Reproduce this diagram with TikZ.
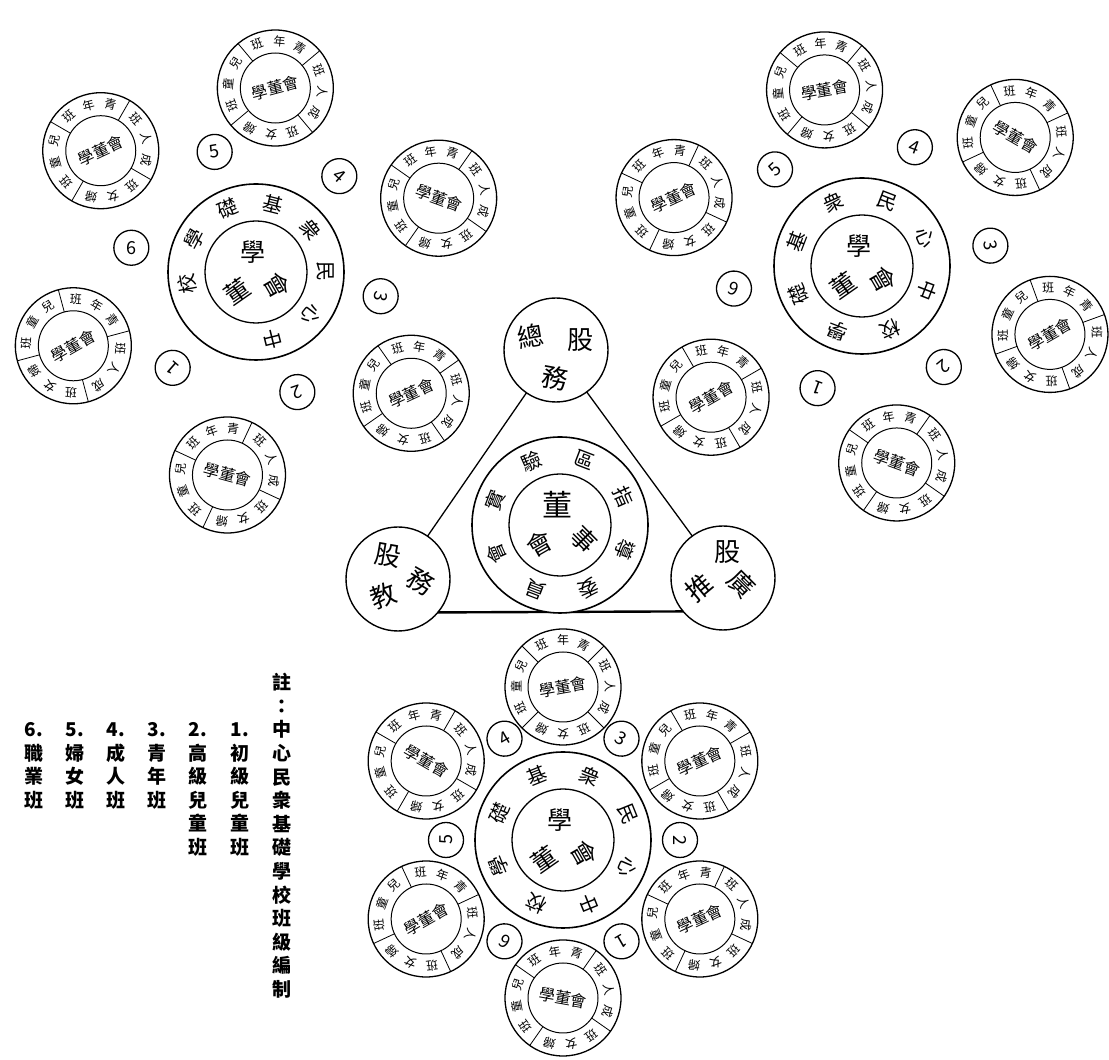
\documentclass[tikz,border=0pt]{standalone}
\usepackage{fontspec}
\setmainfont{Noto Sans CJK TC}
\usetikzlibrary{positioning}

% branch school: board in the middle, four classes round it
\newcommand{\ringschool}[4]{%
  \node[schoolout] (#1) at (#2) {};
  \node[schoolin] (#1i) at (#2) {};
  \foreach \s/\ca/\cb/\cc in {0/青/年/班, 90/兒/童/班, 180/婦/女/班, 270/成/人/班}{
    \draw[divline] ([shift={({#3+\s+45}:35)}]#1.center) -- ([shift={({#3+\s+45}:58)}]#1.center);
    \node[ringtxt, rotate=#3+\s-27] (#1-\s-a) at ([shift={({#3+\s+63}:47)}]#1.center) {\ca};
    \node[ringtxt, rotate=#3+\s] (#1-\s-b) at ([shift={({#3+\s+90}:47)}]#1.center) {\cb};
    \node[ringtxt, rotate=#3+\s+27] (#1-\s-c) at ([shift={({#3+\s+117}:47)}]#1.center) {\cc};
  }
  \node[schooltxt, rotate=#4] (#1-board) at (#1.center) {學董會};
}

% central school: name round the ring, board inside
\newcommand{\bigschool}[4]{%
  \node[bigout] (#1) at (#2) {};
  \node[bigin] (#1i) at (#2) {};
  \foreach \ch [count=\k] in {中,心,民,衆,基,礎,學,校}{
    \pgfmathsetmacro\ang{#3+(\k-1)*(#4)}
    \node[bigtxt, rotate=\ang-90] (#1-\k) at ([shift={(\ang:69.5)}]#1.center) {\ch};
  }
  \node[boardtxt] (#1-xue) at ([shift={(-3,20)}]#1.center) {學};
  \node[boardtxt, rotate=35] (#1-dong) at ([shift={(-19,-19)}]#1.center) {董};
  \node[boardtxt, rotate=-60] (#1-hui) at ([shift={(21,-14)}]#1.center) {會};
}

\begin{document}
\begin{tikzpicture}[
    x=1pt, y=1pt,
    schoolout/.style={circle, draw, line width=1.3pt, minimum size=116, inner sep=0, outer sep=0, fill=white},
    schoolin/.style={circle, draw, line width=1pt, minimum size=70, inner sep=0, outer sep=0},
    divline/.style={line width=0.8pt},
    ringtxt/.style={inner sep=0, font=\fontsize{12}{12}\selectfont},
    schooltxt/.style={inner sep=0, font=\fontsize{16}{16}\selectfont},
    bigout/.style={circle, draw, line width=1.6pt, minimum size=176, inner sep=0, outer sep=0, fill=white},
    bigin/.style={circle, draw, line width=1.3pt, minimum size=102, inner sep=0, outer sep=0},
    bigtxt/.style={inner sep=0, font=\fontsize{20}{20}\selectfont},
    boardtxt/.style={inner sep=0, font=\fontsize{25}{25}\selectfont},
    numcirc/.style={circle, draw, line width=1.3pt, minimum size=35, inner sep=0, outer sep=0, font=\fontsize{18}{18}\selectfont},
    office/.style={circle, draw, line width=1.4pt, minimum size=104, inner sep=0, outer sep=0, fill=white},
    offtxt/.style={inner sep=0, font=\fontsize{26}{26}\selectfont},
    triline/.style={line width=1.3pt},
    baseline/.style={line width=2.4pt},
    legend/.style={inner sep=0, align=center, font=\bfseries\fontsize{19}{23.6}\selectfont},
]
    \useasboundingbox (0,0) rectangle (1109,1060);

    % triangle: committee and its three offices
    \node[office] (zongwu) at (556,710) {};
    \node[office] (jiaowu) at (398,481) {};
    \node[office] (tuiguang) at (723,482) {};
    \draw[triline] (zongwu) -- (jiaowu);
    \draw[triline] (zongwu) -- (tuiguang);
    \draw[baseline] (jiaowu.320) -- (tuiguang.220);
    \node[offtxt, rotate=10] (zongwu-a) at ([shift={(-25,14)}]zongwu.center) {總};
    \node[offtxt, rotate=-10] (zongwu-b) at ([shift={(-1,-28)}]zongwu.center) {務};
    \node[offtxt] (zongwu-c) at ([shift={(24,10)}]zongwu.center) {股};
    \node[offtxt, rotate=20] (jiaowu-a) at ([shift={(-15,-17)}]jiaowu.center) {教};
    \node[offtxt, rotate=-30] (jiaowu-b) at ([shift={(23,-2)}]jiaowu.center) {務};
    \node[offtxt, rotate=-10] (jiaowu-c) at ([shift={(-10,23)}]jiaowu.center) {股};
    \node[offtxt, rotate=40] (tuiguang-a) at ([shift={(-24,-10)}]tuiguang.center) {推};
    \node[offtxt, rotate=-45] (tuiguang-b) at ([shift={(19,-6)}]tuiguang.center) {廣};
    \node[offtxt] (tuiguang-c) at ([shift={(4,26)}]tuiguang.center) {股};

    \node[bigout] (committee) at (560,535) {};
    \node[bigin] (committeei) at (560,535) {};
    \foreach \ch [count=\k] in {實,驗,區,指,導,委,員,會}{
        \pgfmathsetmacro\ang{159-(\k-1)*45}
        \node[bigtxt, rotate=\ang-90] (committee-\k) at ([shift={(\ang:69.5)}]committee.center) {\ch};
    }
    \node[boardtxt, font=\fontsize{30}{30}\selectfont] (committee-dong) at ([shift={(-3,20)}]committee.center) {董};
    \node[boardtxt, rotate=-45] (committee-shi) at ([shift={(24,-15)}]committee.center) {事};
    \node[boardtxt, rotate=30] (committee-hui) at ([shift={(-20,-19)}]committee.center) {會};

    % west school
    \bigschool{west}{256,788}{-76}{38}
    \foreach \n/\ang/\rot in {3/-11/-101, 4/49/-41, 5/109/10, 6/169/0, 1/229/139, 2/289/199}{
        \node[numcirc, rotate=\rot] (westn\n) at ([shift={(\ang:127)}]west.center) {\n};
    }
    \foreach \ang/\dist/\tu/\bu [count=\i] in {22/197/10/-20, 84/185/-5/15, 142/197/15/25, 202/197/-30/30, 262/205/20/-15, 322/197/-10/25}{
        \ringschool{westr\i}{[shift={(\ang:\dist)}]west.center}{\tu}{\bu}
    }

    % east school
    \bigschool{east}{862,794}{-21}{45}
    \foreach \n/\ang/\rot in {3/9/-81, 4/66/-20, 5/132/42, 6/190/160, 1/250/160, 2/309/219}{
        \node[numcirc, rotate=\rot] (eastn\n) at ([shift={(\ang:130)}]east.center) {\n};
    }
    \foreach \ang/\dist/\tu/\bu [count=\i] in {40/200/-20/-30, 102/180/5/10, 160/200/20/25, 221/200/-15/30, 280/200/10/-20, 340/200/-25/30}{
        \ringschool{eastr\i}{[shift={(\ang:\dist)}]east.center}{\tu}{\bu}
    }

    % south school
    \bigschool{south}{563,220}{-68}{45}
    \foreach \n/\ang/\rot in {2/0/-90, 3/60/-30, 4/120/30, 5/180/90, 6/240/150, 1/300/210}{
        \node[numcirc, rotate=\rot] (southn\n) at ([shift={(\ang:117)}]south.center) {\n};
    }
    \foreach \ang/\dist/\tu/\bu [count=\i] in {30/158/-15/25, 90/153/0/10, 150/158/15/-30, 210/158/-20/30, 270/158/10/-10, 330/158/20/25}{
        \ringschool{southr\i}{[shift={(\ang:\dist)}]south.center}{\tu}{\bu}
    }

    % note, read in columns from right to left
    \node[legend, anchor=north] (note) at (282,387) {註\\：\\中\\心\\民\\衆\\基\\礎\\學\\校\\班\\級\\編\\制};
    \node[legend, anchor=north] (class1) at (240,340) {\vphantom{中}1.\\初\\級\\兒\\童\\班};
    \node[legend, anchor=north] (class2) at (198,340) {\vphantom{中}2.\\高\\級\\兒\\童\\班};
    \node[legend, anchor=north] (class3) at (157,340) {\vphantom{中}3.\\青\\年\\班};
    \node[legend, anchor=north] (class4) at (116,340) {\vphantom{中}4.\\成\\人\\班};
    \node[legend, anchor=north] (class5) at (75,340) {\vphantom{中}5.\\婦\\女\\班};
    \node[legend, anchor=north] (class6) at (34,340) {\vphantom{中}6.\\職\\業\\班};
\end{tikzpicture}
\end{document}
